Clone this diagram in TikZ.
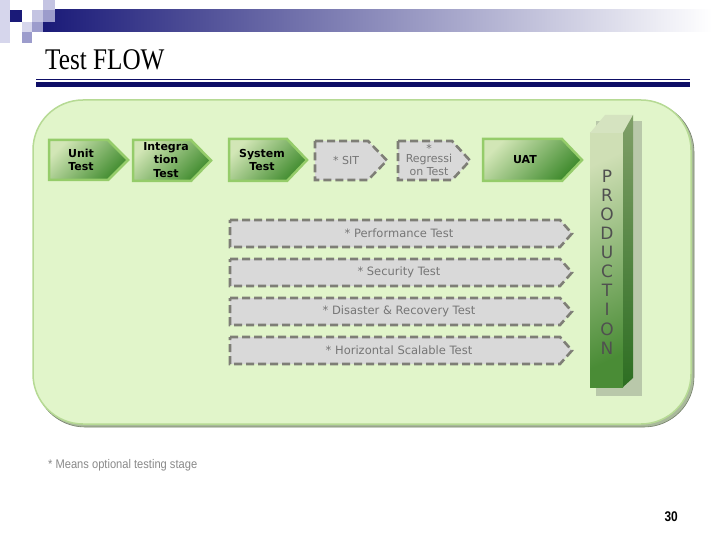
\documentclass[tikz,border=0pt]{standalone}
\usepackage{fontspec}
\setmainfont{DejaVu Sans}
\newfontfamily\titlefont{Liberation Serif}
\newfontfamily\notefont{Liberation Sans}
\definecolor{navy}{HTML}{1A1A78}
\definecolor{linenavy}{HTML}{0E0E66}
\definecolor{lavA}{HTML}{D6D6EC}
\definecolor{lavB}{HTML}{9C9CCC}
\definecolor{lavC}{HTML}{C4C4E2}
\definecolor{panelfill}{HTML}{E1F5CA}
\definecolor{panelline}{HTML}{B6DA94}
\definecolor{panelshadow}{HTML}{A9B99B}
\definecolor{chevlight}{HTML}{D2E6B6}
\definecolor{chevdark}{HTML}{3E8A2C}
\definecolor{chevline}{HTML}{95CC6A}
\definecolor{dashgrey}{HTML}{7E7E76}
\definecolor{boxgrey}{HTML}{D9D9D9}
\definecolor{greytext}{HTML}{767676}
\definecolor{notegrey}{HTML}{8A8A8A}
\definecolor{prodshadow}{HTML}{B9C8AA}
\definecolor{prodlight}{HTML}{CFDFB5}
\definecolor{proddark}{HTML}{4A8C36}
\definecolor{prodtop}{HTML}{D5E3C0}
\definecolor{prodsideA}{HTML}{809F68}
\definecolor{prodsideB}{HTML}{2D6E22}
\definecolor{prodtext}{HTML}{505050}
\tikzset{
  greenchev/.style={top color=chevlight, bottom color=chevdark, shading angle=45,
    draw=chevline, line width=2.5pt, line join=miter},
  greychev/.style={fill=boxgrey, draw=dashgrey, line width=2.6pt, dash pattern=on 8pt off 4pt},
  boldlabel/.style={font=\fontsize{11}{13.5}\selectfont\bfseries, align=center, text=black, inner sep=0pt},
  greylabel/.style={font=\fontsize{11}{13.5}\selectfont, align=center, text=greytext, inner sep=0pt},
  barlabel/.style={font=\fontsize{11.5}{14}\selectfont, text=greytext, inner sep=0pt},
}
\newcommand\chevron[6]{\path[#1] (#2,#3) -- (#4,#3) -- (#5,{(#3+#6)/2}) -- (#4,#6) -- (#2,#6) -- cycle;}
\begin{document}
\begin{tikzpicture}[x=1pt,y=-1pt]
\useasboundingbox (0,0) rectangle (720,540);
\fill[white] (0,0) rectangle (720,540);
% header decoration
\shade[left color=navy, middle color=lavB!75!white, right color=white] (43,10) rectangle (712,32);
\fill[lavA] (0,0) rectangle (10,43);
\fill[navy] (10,10) rectangle (22,22);
\fill[lavA] (22,22) rectangle (32,32);
\fill[lavB] (22,32) rectangle (32,43);
\fill[lavC] (32,10) rectangle (43,22);
\fill[lavB] (32,22) rectangle (43,32);
\fill[lavC] (43,0) rectangle (55,10);
\fill[lavB] (43,10) rectangle (55,22);
% title
\node[font=\titlefont\fontsize{30}{30}\selectfont, anchor=base west, inner sep=0pt, xscale=0.84] (title) at (45,70) {Test FLOW};
\fill[linenavy] (36,79) rectangle (690,80.5);
\fill[linenavy] (36,82.5) rectangle (690,87);
% panel
\filldraw[fill=panelshadow, draw=panelshadow!70!black, line width=0.6pt, rounded corners=50pt] (35,102) rectangle (694,427);
\filldraw[fill=panelfill, draw=panelline, line width=1.5pt, rounded corners=50pt] (33,100) rectangle (691,424);
% green chevrons
\chevron{greenchev}{49}{140}{108}{128}{180}
\chevron{greenchev}{133}{140}{191}{211}{181}
\chevron{greenchev}{229}{139}{287}{307}{181}
\chevron{greenchev}{483}{139}{562}{582}{181}
% grey optional chevrons
\chevron{greychev}{315}{141}{368}{387}{180}
\chevron{greychev}{398}{141}{452}{470}{180}
\chevron{greychev}{230}{220}{560}{572}{247}
\chevron{greychev}{230}{259}{560}{572}{286}
\chevron{greychev}{230}{298}{560}{572}{325}
\chevron{greychev}{230}{337}{560}{572}{364}
% labels
\node[boldlabel] (unit) at (81,160) {Unit\\Test};
\node[boldlabel] (integ) at (166,160) {Integra\\tion\\Test};
\node[boldlabel] (system) at (262,160) {System\\Test};
\node[greylabel] (sit) at (346,160) {* SIT};
\node[greylabel] (regr) at (429,160) {\raisebox{-4pt}{*}\\Regressi\\on Test};
\node[boldlabel] (uat) at (525,160) {UAT};
\node[barlabel] (perf) at (399,233) {* Performance Test};
\node[barlabel] (secu) at (399,272) {* Security Test};
\node[barlabel] (disa) at (399,311) {* Disaster \& Recovery Test};
\node[barlabel] (hori) at (399,350) {* Horizontal Scalable Test};
% production block
\fill[prodshadow] (596,121) rectangle (642,396);
\shade[top color=prodlight, bottom color=proddark, shading angle=25] (590,133) rectangle (623,387);
\fill[prodtop] (590,133) -- (605,115) -- (633,115) -- (623,133) -- cycle;
\shade[top color=prodsideA, bottom color=prodsideB] (623,133) -- (633,115) -- (633,378) -- (623,387) -- cycle;
\node[font=\fontsize{17}{19.1}\selectfont, text=prodtext, align=center, inner sep=0pt] (prod) at (607,262) {P\\R\\O\\D\\U\\C\\T\\I\\O\\N};
% footnote and page number
\node[font=\notefont\fontsize{12.5}{14}\selectfont, text=notegrey, anchor=base west, inner sep=0pt, xscale=0.89] (note) at (48,468) {* Means optional testing stage};
\node[font=\notefont\bfseries\fontsize{14}{14}\selectfont, anchor=base east, inner sep=0pt, xscale=0.85] (pagenum) at (678,521) {30};
\end{tikzpicture}
\end{document}
